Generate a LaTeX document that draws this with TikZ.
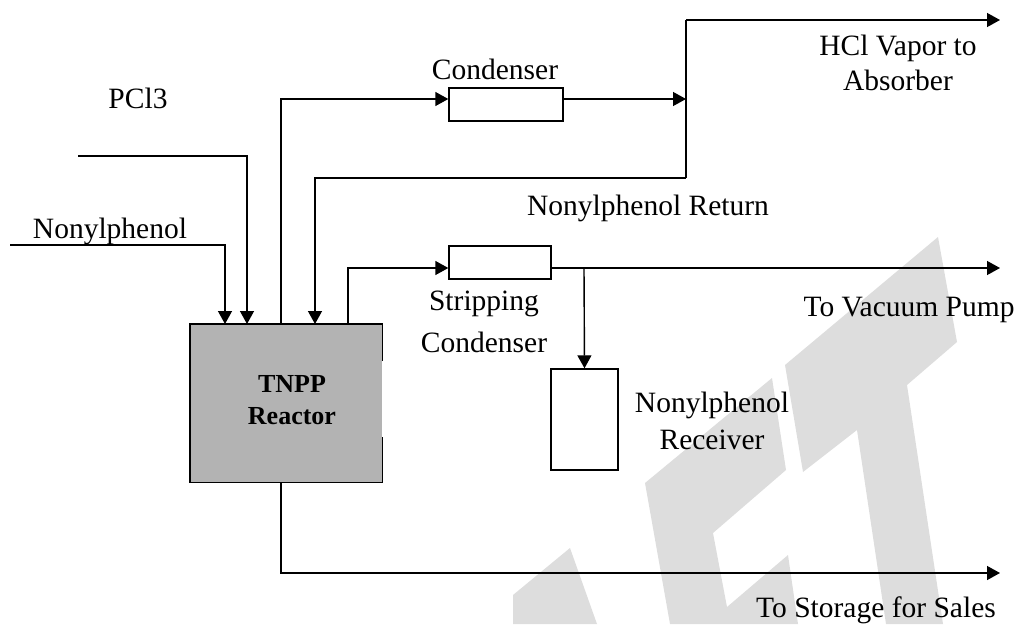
\documentclass[tikz,border=0pt]{standalone}
\usepackage{fontspec}
\setmainfont{Liberation Serif}
\usetikzlibrary{arrows.meta,calc}
\definecolor{wmgray}{HTML}{DDDDDD}
\definecolor{reactgray}{HTML}{B3B3B3}
\tikzset{
  flow/.style={line width=1.4pt,-{Triangle[length=13pt,width=14pt]}},
  pipe/.style={line width=1.4pt},
  unitbox/.style={draw,line width=1.4pt,fill=white,inner sep=0pt},
  lbl/.style={font=\fontsize{29.5}{35}\selectfont,anchor=base,inner sep=0pt,align=center},
  boldlbl/.style={font=\fontsize{26}{32}\selectfont\bfseries,align=center,inner sep=0pt},
}
\begin{document}
\begin{tikzpicture}[x=1pt,y=-1pt]
\useasboundingbox (0,0) rectangle (1023,624);
% watermark
\fill[wmgray] (513,595) -- (570,548) -- (597,624) -- (513,624) -- cycle;
\fill[wmgray] (645,483) -- (772,378) -- (786,470) -- (713,533) -- (727,607) -- (788,555) -- (798,624) -- (670,624) -- cycle;
\fill[wmgray] (785,365) -- (938,237) -- (957,342) -- (907,385) -- (943,624) -- (886,624) -- (857,430) -- (803,472) -- cycle;

% reactor
\node[fill=reactgray,minimum width=192pt,minimum height=158pt,inner sep=0pt] (reactor) at (286,403) {};
\draw[pipe] (reactor.east |- 0,361) -- (reactor.north east) -- (reactor.north west) -- (reactor.south west) -- (reactor.south east) -- (reactor.east |- 0,437);
\node[boldlbl] (rtext) at (292,400) {TNPP\\Reactor};

% units
\node[unitbox,minimum width=114pt,minimum height=33pt] (cond) at (506,104.5) {};
\node[unitbox,minimum width=102pt,minimum height=33pt] (strip) at (500,262.5) {};
\node[unitbox,minimum width=67pt,minimum height=101pt] (recv) at (584.5,419.5) {};

% ports and free ends
\coordinate (p1) at (225,324);
\coordinate (p2) at (247,324);
\coordinate (p3) at (281,324);
\coordinate (p4) at (315,324);
\coordinate (p5) at (348,324);
\coordinate (p6) at (281,482);
\coordinate (npin) at (10,245);
\coordinate (pclin) at (78,156);
\coordinate (condin) at (cond.west |- 0,99);
\coordinate (condout) at (cond.east |- 0,99);
\coordinate (junc) at (686,99);
\coordinate (jtop) at (686,20);
\coordinate (jbot) at (686,178);
\coordinate (hclout) at (1000,20);
\coordinate (stripin) at (strip.west |- 0,268);
\coordinate (stripout) at (strip.east |- 0,268);
\coordinate (branch) at (584,268);
\coordinate (vacout) at (1000,268);
\coordinate (storeout) at (1000,573);

% connectors
\draw[flow] (npin) -| (p1);
\draw[flow] (pclin) -| (p2);
\draw[flow] (p3) |- (condin);
\draw[flow] (condout) -- (junc);
\draw[pipe] (jbot) -- (jtop);
\draw[flow] (jtop) -- (hclout);
\draw[flow] (jbot) -| (p4);
\draw[flow] (p5) |- (stripin);
\draw[flow] (stripout) -- (vacout);
\draw[flow] (branch) -- (recv.north);
\draw[flow] (p6) |- (storeout);

% labels (anchor base = baseline of last line)
\node[lbl] (lpcl) at (138,108) {PCl3};
\node[lbl] (lnp) at (110,238) {Nonylphenol};
\node[lbl] (lcond) at (495,79) {Condenser};
\node[lbl] (lhcl) at (898,90) {HCl Vapor to\\Absorber};
\node[lbl] (lret) at (648,215) {Nonylphenol Return};
\node[lbl,font=\fontsize{29.5}{42}\selectfont] (lstrip) at (484,352) {Stripping\\Condenser};
\node[lbl] (lvac) at (909,316) {To Vacuum Pump};
\node[lbl,font=\fontsize{29.5}{37}\selectfont] (lrecv) at (712,449) {Nonylphenol\\Receiver};
\node[lbl] (lsto) at (876,617) {To Storage for Sales};
\end{tikzpicture}
\end{document}
